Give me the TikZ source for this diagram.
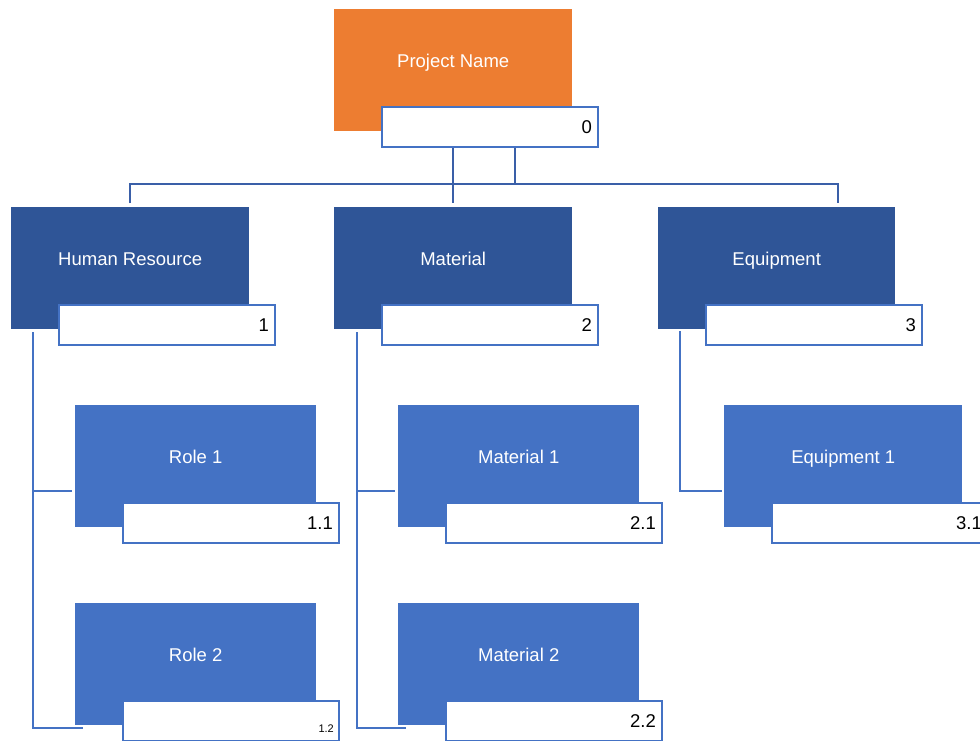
\documentclass[tikz,border=0pt]{standalone}
\usepackage{fontspec}
\setmainfont{Liberation Sans}
\definecolor{orangeA}{HTML}{ED7D31}
\definecolor{navyA}{HTML}{2F5597}
\definecolor{blueA}{HTML}{4472C4}
\definecolor{lineA}{HTML}{3A5FA8}

% one work-breakdown item: coloured box, title, white number box, number
% #1 name, #2 x, #3 y (top left), #4 width, #5 fill, #6 title, #7 number, #8 extra number style
\newcommand\wbsitem[8]{%
  \node[wbsbox, minimum width=#4pt, fill=#5] (#1) at (#2,#3) {};
  \node[titletext] (#1-title) at ([yshift=-58.5pt]#1.north) {#6};
  \node[numbox] (#1-num) at (#2+47,#3+97) {};
  \node[numtext,#8] (#1-label) at ([xshift=-7pt]#1-num.east) {#7};
}

\begin{document}
\begin{tikzpicture}[x=1pt,y=-1pt,
  wbsbox/.style={rectangle, inner sep=0pt, minimum height=122pt, anchor=north west, draw=none},
  numbox/.style={rectangle, inner sep=0pt, minimum width=216pt, minimum height=40pt,
                 anchor=north west, fill=white, draw=blueA, line width=2pt},
  titletext/.style={text=white, inner sep=0pt, anchor=base, font=\fontsize{18.5}{22}\selectfont},
  numtext/.style={text=black, anchor=east, inner sep=0pt, font=\fontsize{18.5}{22}\selectfont},
  link/.style={draw=blueA, line width=2pt},
  toplink/.style={draw=lineA, line width=2.3pt}]
\clip (0,0) rectangle (980,740);
\fill[white] (0,0) rectangle (980,740);

% top level
\wbsitem{p}{334}{9}{238}{orangeA}{Project Name}{0}{}

% first level
\wbsitem{hr}{11}{207}{238}{navyA}{Human Resource}{1}{}
\wbsitem{mat}{334}{207}{238}{navyA}{Material}{2}{}
\wbsitem{eq}{658}{207}{237}{navyA}{Equipment}{3}{}

% second level
\wbsitem{r1}{75}{405}{241}{blueA}{Role 1}{1.1}{}
\wbsitem{r2}{75}{603}{241}{blueA}{Role 2}{}{}
\node[numtext, font=\fontsize{11}{13}\selectfont] (r2-small) at ([xshift=-6pt,yshift=-8pt]r2-num.east) {1.2};
\wbsitem{m1}{398}{405}{241}{blueA}{Material 1}{2.1}{}
\wbsitem{m2}{398}{603}{241}{blueA}{Material 2}{2.2}{}
\wbsitem{e1}{724}{405}{238}{blueA}{Equipment 1}{3.1}{}

% connectors from the project to the first level
\coordinate (bus) at (515,184);
\coordinate (eqdrop) at (838,184);
\draw[toplink] (p-num.south -| mat.north) -- ([yshift=4pt]mat.north);
\draw[toplink] (p-num.south -| bus) -- (bus);
\draw[toplink] ([yshift=4pt]hr.north) -- (hr.north |- bus) -- (eqdrop) -- ([yshift=4pt]eq.north -| eqdrop);

% connectors from the first level to the second level
\draw[link] ([xshift=22pt,yshift=-3pt]hr.south west) |- ([xshift=-3pt,yshift=36pt]r1.south west);
\draw[link] ([xshift=22pt,yshift=-3pt]hr.south west) |- ([xshift=8pt,yshift=-3pt]r2.south west);
\draw[link] ([xshift=23pt,yshift=-3pt]mat.south west) |- ([xshift=-3pt,yshift=36pt]m1.south west);
\draw[link] ([xshift=23pt,yshift=-3pt]mat.south west) |- ([xshift=8pt,yshift=-3pt]m2.south west);
\draw[link] ([xshift=22pt,yshift=-2pt]eq.south west) |- ([xshift=-2pt,yshift=36pt]e1.south west);
\end{tikzpicture}
\end{document}
